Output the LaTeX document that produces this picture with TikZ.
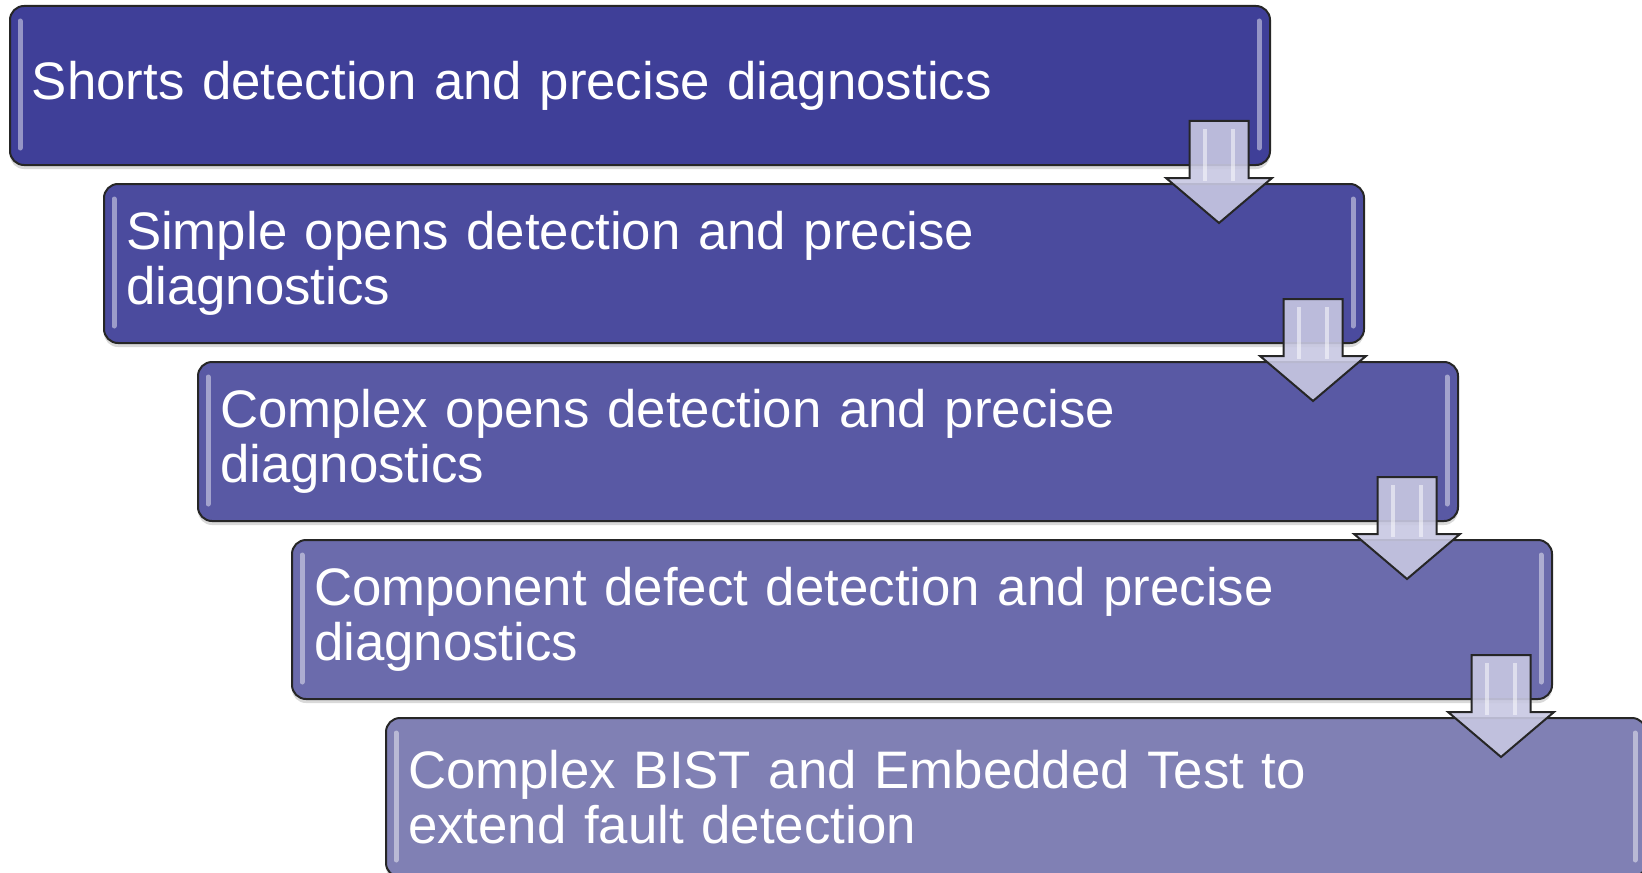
\documentclass[tikz,border=0pt]{standalone}
\usepackage{fontspec}
\setmainfont{Liberation Sans}
\usetikzlibrary{calc,shadows}
\definecolor{stepone}{RGB}{63,63,152}
\definecolor{steptwo}{RGB}{75,75,158}
\definecolor{stepthree}{RGB}{89,89,164}
\definecolor{stepfour}{RGB}{107,107,172}
\definecolor{stepfive}{RGB}{128,128,180}
\definecolor{arrowlav}{RGB}{200,200,226}

\tikzset{
  stepbox/.style={draw=black!85, line width=1pt, rounded corners=7pt,
    anchor=north west, text=white, align=left, text width=608pt,
    inner xsep=11pt, minimum height=79.5pt,
    font=\fontsize{26.4}{27.6}\selectfont,
    drop shadow={opacity=0.3,shadow xshift=0pt,shadow yshift=-2pt}},
  gloss/.style={white, opacity=0.45, line width=2.5pt, line cap=round},
  arrowfill/.style={draw=black!85, line width=1pt, line join=miter,
    fill=arrowlav, fill opacity=0.9},
  steparrow/.pic={
    \draw[arrowfill] (-29.5,0) -- (29.5,0) -- (29.5,57) -- (53,57)
      -- (0,102) -- (-53,57) -- (-29.5,57) -- cycle;
    \draw[white, opacity=0.5, line width=2pt] (-14,8) -- (-14,60);
    \draw[white, opacity=0.5, line width=2pt] (14,8) -- (14,60);
  }
}

\begin{document}
\begin{tikzpicture}[x=0.5pt,y=-0.5pt]
        \useasboundingbox (0,0) rectangle (1642,872);

        \coordinate (p1) at (9,5);
        \coordinate (p2) at (103,183);
        \coordinate (p3) at (197,361);
        \coordinate (p4) at (291,539);
        \coordinate (p5) at (385,717);

        \node[stepbox,fill=stepone] (s1) at (p1) {Shorts detection and precise diagnostics};
        \node[stepbox,fill=steptwo] (s2) at (p2) {Simple opens detection and precise\\diagnostics};
        \node[stepbox,fill=stepthree] (s3) at (p3) {Complex opens detection and precise\\diagnostics};
        \node[stepbox,fill=stepfour] (s4) at (p4) {Component defect detection and precise\\diagnostics};
        \node[stepbox,fill=stepfive] (s5) at (p5) {Complex BIST and Embedded Test to\\extend fault detection};

        \foreach \b in {s1,s2,s3,s4,s5}{
          \draw[gloss] ($(\b.north west)+(11,16)$) -- ($(\b.south west)+(11,-18)$);
          \draw[gloss] ($(\b.north east)+(-12,16)$) -- ($(\b.south east)+(-12,-18)$);
        }

        \pic at ($(s1.north east)+(-52,116)$) {steparrow};
        \pic at ($(s2.north east)+(-52,116)$) {steparrow};
        \pic at ($(s3.north east)+(-52,116)$) {steparrow};
        \pic at ($(s4.north east)+(-52,116)$) {steparrow};
\end{tikzpicture}
\end{document}
